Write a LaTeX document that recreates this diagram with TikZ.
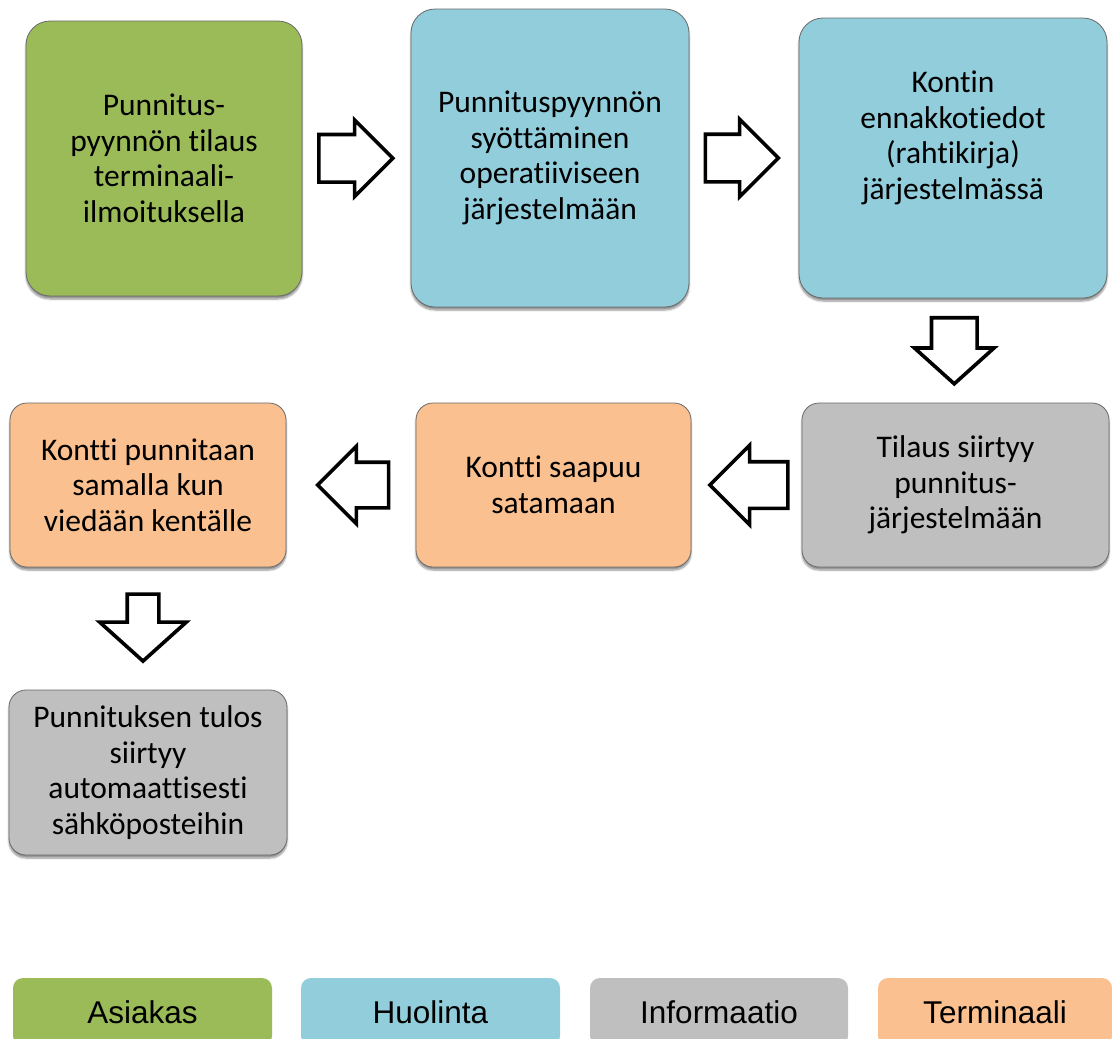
\documentclass[tikz,border=0pt]{standalone}
\usepackage{fontspec}
\setmainfont{Carlito}[Ligatures=NoCommon]
\newfontfamily\legendfont{Liberation Sans}
\usetikzlibrary{shapes.arrows,shadows.blur,calc}

\definecolor{asiakas}{HTML}{9BBB59}
\definecolor{huolinta}{HTML}{92CDDC}
\definecolor{info}{HTML}{BFBFBF}
\definecolor{terminaali}{HTML}{FAC090}
\definecolor{reuna}{RGB}{105,105,105}

\tikzset{
  vaihe/.style={draw=reuna, line width=0.8pt, rounded corners=24pt, align=center,
    font=\fontsize{31.5}{35.5}\selectfont, inner sep=0pt,
    blur shadow={shadow xshift=0pt, shadow yshift=-3pt, shadow blur steps=6, shadow opacity=45}},
  pieni/.style={vaihe, rounded corners=17pt},
  selite/.style={rounded corners=10pt, minimum height=68pt, inner sep=0pt,
    font=\legendfont\fontsize{31.5}{36}\selectfont},
  nuoli/.style={single arrow, draw=black, fill=white, line width=3.6pt, single arrow tip angle=90},
}

\begin{document}
\begin{tikzpicture}[x=1pt,y=-1pt]
  \useasboundingbox (0,0) rectangle (1112,1039);
  % ylarivi
  \node[vaihe, fill=asiakas, minimum width=276pt, minimum height=275pt] (tilaus) at (164,158.5)
    {Punnitus-\\pyynnön tilaus\\terminaali-\\ilmoituksella};
  \node[vaihe, fill=huolinta, minimum width=278pt, minimum height=298pt] (syotto) at (550,158)
    {Punnituspyynnön\\syöttäminen\\operatiiviseen\\järjestelmään};
  \node[vaihe, fill=huolinta, minimum width=308pt, minimum height=280pt] (ennakko) at (953,158)
    {Kontin\\ennakkotiedot\\(rahtikirja)\\järjestelmässä\\[10pt]\mbox{}};
  % keskirivi
  \node[pieni, fill=info, minimum width=307pt, minimum height=164pt] (siirto) at (955.5,485)
    {Tilaus siirtyy\\punnitus-\\järjestelmään};
  \node[pieni, fill=terminaali, minimum width=275pt, minimum height=164pt] (saapuu) at (553.5,485)
    {Kontti saapuu\\satamaan};
  \node[pieni, fill=terminaali, minimum width=276pt, minimum height=164pt] (punnitus) at (148,485)
    {Kontti punnitaan\\samalla kun\\viedään kentälle};
  % alarivi
  \node[pieni, fill=info, minimum width=278pt, minimum height=165pt] (tulos) at (148,772.5)
    {Punnituksen tulos\\siirtyy\\automaattisesti\\sähköposteihin};

  % nuolet
  \node[nuoli, minimum height=74pt, inner sep=22pt, single arrow head extend=14.5pt] (n1)
    at ($(tilaus.east)!0.5!(syotto.west)+(-12.5,0)$) {};
  \node[nuoli, minimum height=73pt, inner sep=22pt, single arrow head extend=15pt] (n2)
    at ($(syotto.east)!0.5!(ennakko.west)+(-14,0)$) {};
  \node[nuoli, shape border rotate=270, single arrow tip angle=96,
    minimum height=64pt, inner sep=21pt, single arrow head extend=17pt] (n3)
    at ($(ennakko.south)!0.5!(siirto.north)+(0,-10)$) {};
  \node[nuoli, shape border rotate=180, minimum height=78pt, inner sep=21.5pt,
    single arrow head extend=16.5pt] (n4)
    at ($(siirto.west)!0.5!(saapuu.east)+(14,0)$) {};
  \node[nuoli, shape border rotate=180, minimum height=71pt, inner sep=21pt,
    single arrow head extend=16pt] (n5)
    at ($(saapuu.west)!0.5!(punnitus.east)+(13.5,0)$) {};
  \node[nuoli, shape border rotate=270, single arrow tip angle=96,
    minimum height=67pt, inner sep=14pt, single arrow head extend=27.5pt] (n6)
    at ($(punnitus.south)!0.5!(tulos.north)+(-5,-8)$) {};

  % selitteet
  \node[selite, fill=asiakas, minimum width=259pt] (s1) at (142.5,1012) {Asiakas};
  \node[selite, fill=huolinta, minimum width=259pt] (s2) at (430.5,1012) {Huolinta};
  \node[selite, fill=info, minimum width=258pt] (s3) at (719,1012) {Informaatio};
  \node[selite, fill=terminaali, minimum width=234pt] (s4) at (995,1012) {Terminaali};
\end{tikzpicture}
\end{document}
